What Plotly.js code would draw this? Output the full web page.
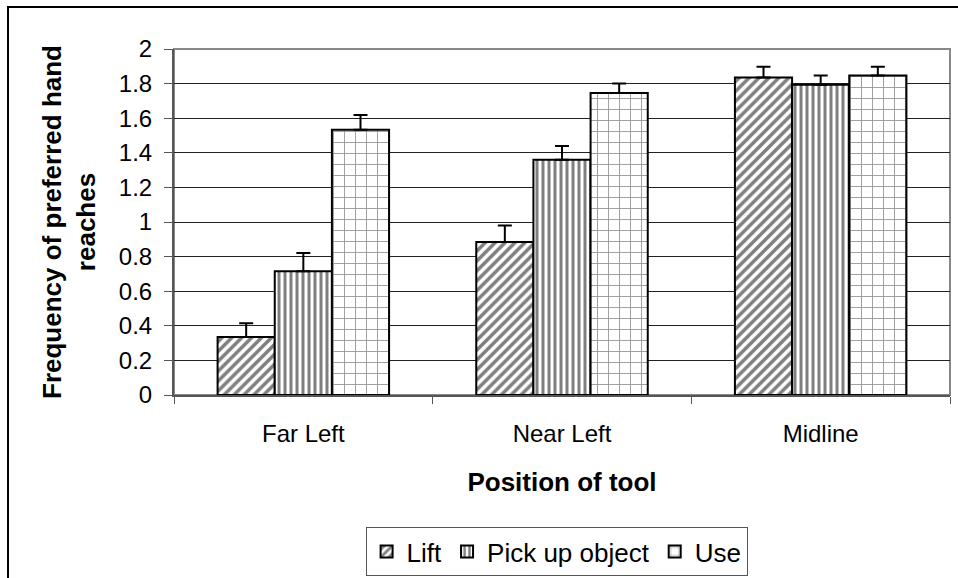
<!DOCTYPE html>
<html>
<head>
<meta charset="utf-8">
<script src="https://cdn.plot.ly/plotly-3.0.1.min.js"></script>
<style>
html, body { margin: 0; padding: 0; background: #ffffff; }
#chart { width: 958px; height: 578px; }
</style>
</head>
<body>
<div id="chart"></div>
<script>
// ---- data ----
var categories = ["Far Left", "Near Left", "Midline"];
var seriesNames = ["Lift", "Pick up object", "Use"];
var liftValues = [0.335, 0.884, 1.835];
var liftErrors = [0.080, 0.096, 0.062];
var pickValues = [0.716, 1.360, 1.793];
var pickErrors = [0.105, 0.080, 0.054];
var useValues = [1.533, 1.745, 1.847];
var useErrors = [0.085, 0.055, 0.050];
var yTickValues = [0, 0.2, 0.4, 0.6, 0.8, 1, 1.2, 1.4, 1.6, 1.8, 2];
var yTickLabels = ["0", "0.2", "0.4", "0.6", "0.8", "1", "1.2", "1.4", "1.6", "1.8", "2"];

var FONT = '"Liberation Sans", Arial, sans-serif';

function zeros(n) { var a = []; for (var i = 0; i < n; i++) a.push(0); return a; }

function barTrace(name, vals, errs, pattern) {
  return {
    type: 'bar',
    name: name,
    x: categories,
    y: vals,
    marker: {
      color: '#ffffff',
      line: { color: '#000000', width: 2 },
      pattern: pattern
    },
    error_y: {
      type: 'data',
      array: errs,
      arrayminus: zeros(errs.length),
      symmetric: false,
      color: '#000000',
      thickness: 2,
      width: 7
    },
    hoverinfo: 'x+y+name'
  };
}

var traces = [
  barTrace(seriesNames[0], liftValues, liftErrors,
    { shape: '/', size: 7, solidity: 0.5, fgcolor: '#000000', bgcolor: '#ffffff', fillmode: 'overlay' }),
  barTrace(seriesNames[1], pickValues, pickErrors,
    { shape: '|', size: 6, solidity: 0.5, fgcolor: '#000000', bgcolor: '#ffffff', fillmode: 'overlay' }),
  barTrace(seriesNames[2], useValues, useErrors,
    { shape: '+', size: 11, solidity: 0.15, fgcolor: '#222222', bgcolor: '#ffffff', fillmode: 'overlay' })
];

var layout = {
  width: 958,
  height: 578,
  paper_bgcolor: '#ffffff',
  plot_bgcolor: '#ffffff',
  font: { family: FONT, size: 24, color: '#000000' },
  margin: { l: 174, r: 8, t: 49, b: 183, pad: 0, autoexpand: false },
  barmode: 'group',
  bargap: 0.337,
  bargroupgap: 0,
  showlegend: true,
  legend: {
    orientation: 'h',
    xref: 'container',
    yref: 'container',
    x: 0.581,
    xanchor: 'center',
    y: 0.0882,
    yanchor: 'top',
    bordercolor: '#555555',
    borderwidth: 1,
    bgcolor: '#ffffff',
    font: { family: FONT, size: 26, color: '#000000' },
    itemwidth: 30,
    traceorder: 'normal'
  },
  xaxis: {
    type: 'category',
    range: [-0.5, 2.5],
    tickson: 'boundaries',
    ticks: 'outside',
    ticklen: 7,
    tickcolor: '#555555',
    tickwidth: 1,
    showline: true,
    linecolor: '#555555',
    linewidth: 2,
    showgrid: false,
    zeroline: false,
    tickfont: { family: FONT, size: 24, color: '#000000' },
    ticklabelstandoff: 16,
    automargin: false,
    title: {
      text: '<b>Position of tool</b>',
      font: { family: FONT, size: 26, color: '#000000' },
      standoff: 27
    }
  },
  yaxis: {
    range: [0, 2],
    tickmode: 'array',
    tickvals: yTickValues,
    ticktext: yTickLabels,
    ticks: 'outside',
    ticklen: 8,
    tickcolor: '#555555',
    tickwidth: 1,
    showline: true,
    linecolor: '#555555',
    linewidth: 2,
    showgrid: true,
    gridcolor: '#222222',
    gridwidth: 1,
    zeroline: false,
    tickfont: { family: FONT, size: 24, color: '#000000' },
    ticklabelstandoff: 7,
    automargin: false,
    title: {
      text: '<b>Frequency of preferred hand<br>reaches</b>',
      font: { family: FONT, size: 26, color: '#000000' },
      standoff: 16
    }
  },
  shapes: [
    // plot-area border (gray)
    { type: 'rect', xref: 'paper', yref: 'paper', x0: 0, x1: 1, y0: 0, y1: 1,
      line: { color: '#888888', width: 2 }, fillcolor: 'rgba(0,0,0,0)', layer: 'below' },
    // outer chart frame (runs past the right and bottom edges of the picture)
    { type: 'rect', xref: 'paper', yref: 'paper', x0: -0.2139, x1: 1.1, y0: -0.7, y1: 1.1214,
      line: { color: '#000000', width: 2 }, fillcolor: 'rgba(0,0,0,0)', layer: 'above' }
  ]
};

Plotly.newPlot('chart', traces, layout, { displayModeBar: false, staticPlot: true });
</script>
</body>
</html>
